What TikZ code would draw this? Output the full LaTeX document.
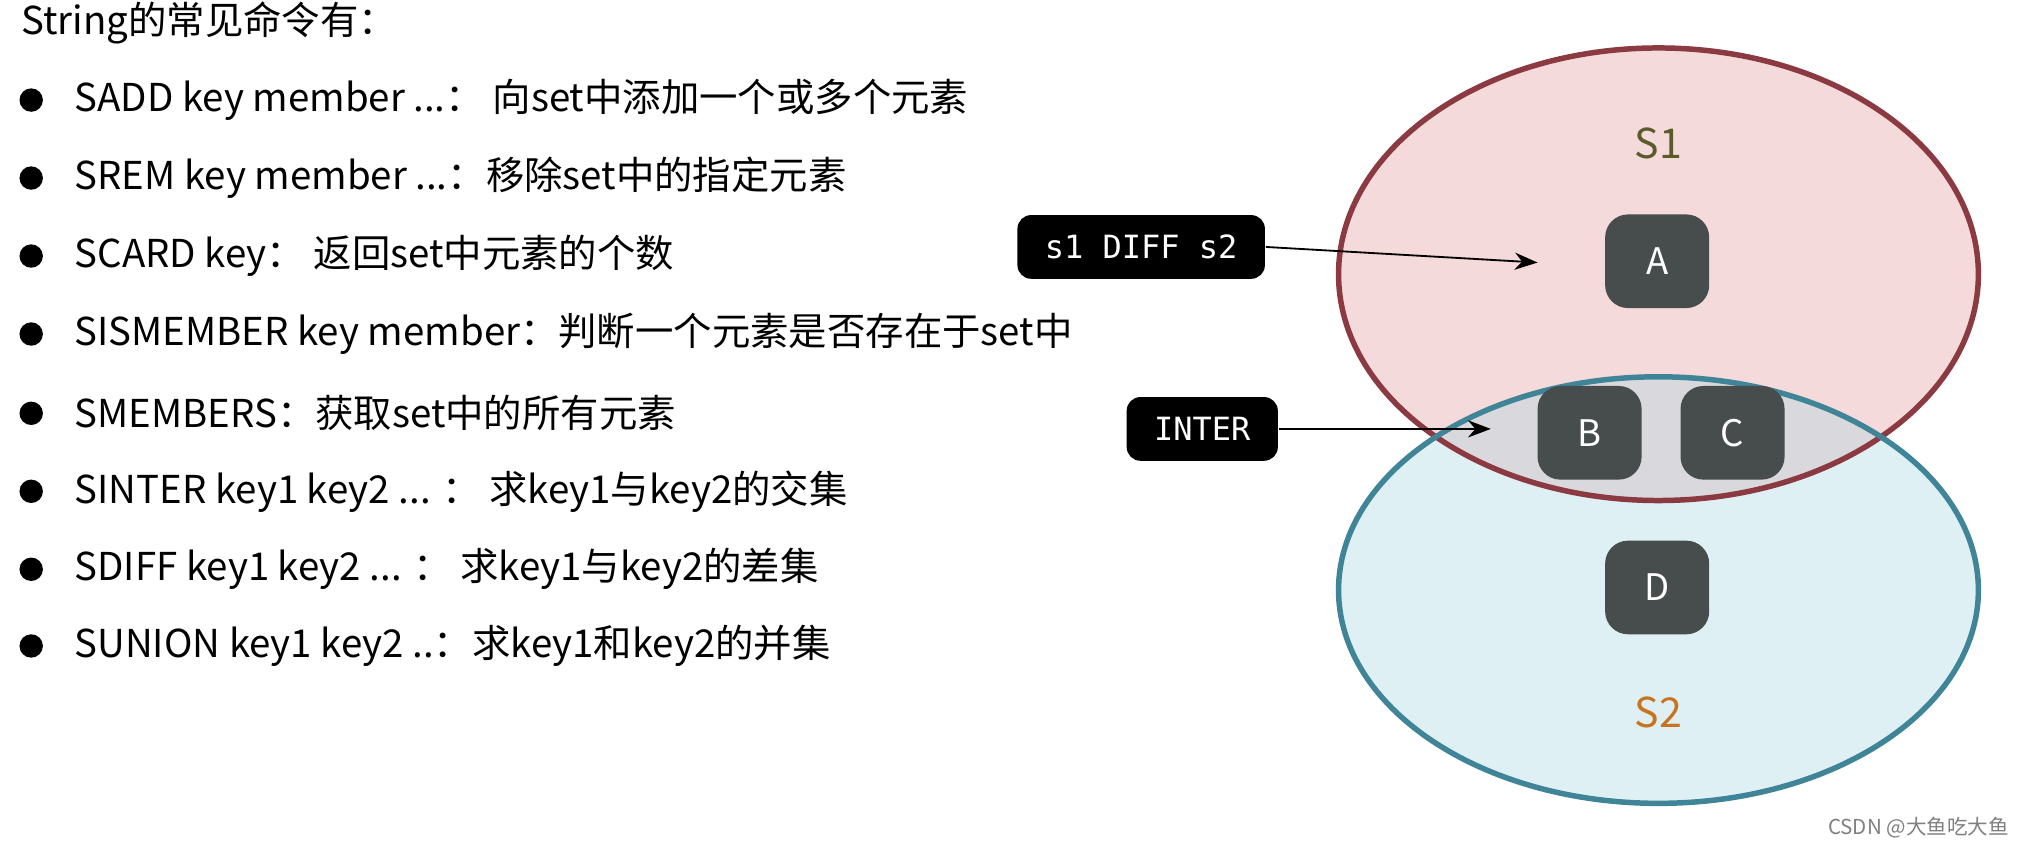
\documentclass[tikz,border=0pt]{standalone}
\usepackage{fontspec}
\setmainfont{Noto Sans CJK SC}
\setmonofont{DejaVu Sans Mono}
\usetikzlibrary{arrows.meta}
\definecolor{pinkfill}{HTML}{F4DADA}
\definecolor{bluefill}{HTML}{DFF0F5}
\definecolor{interfill}{HTML}{D8D8DD}
\definecolor{redline}{HTML}{8B3A42}
\definecolor{blueline}{HTML}{3F8597}
\definecolor{keygray}{HTML}{474C4C}
\definecolor{olivetext}{HTML}{5A5A2A}
\definecolor{orangetext}{HTML}{C8741E}

\begin{document}
\begin{tikzpicture}[
  x=0.01cm, y=-0.01cm,
  element/.style={rounded corners=5pt, fill=keygray, text=white, minimum width=0.8cm, minimum height=0.72cm, font=\fontsize{8}{10}\selectfont},
  cmdlabel/.style={rounded corners=3pt, fill=black, text=white, minimum height=0.49cm, inner xsep=6pt, font=\ttfamily\fontsize{7}{9}\selectfont},
  line/.style={anchor=west, font=\fontsize{8.4}{10}\selectfont},
  >={Stealth[length=5pt]}
]
  \useasboundingbox[fill=white] (0,0) rectangle (1568,652);

  % Title and command list
  \node[line] (title) at (4,18) {String的常见命令有：};
  \foreach \y/\t in {77/{SADD key member ...： 向set中添加一个或多个元素},
                     137/{SREM key member ...：移除set中的指定元素},
                     197/{SCARD key： 返回set中元素的个数},
                     257/{SISMEMBER key member：判断一个元素是否存在于set中},
                     318/{SMEMBERS：获取set中的所有元素},
                     378/{SINTER key1 key2 ... ： 求key1与key2的交集},
                     438/{SDIFF key1 key2 ... ： 求key1与key2的差集},
                     497/{SUNION key1 key2 ..：求key1和key2的并集}} {
    \fill (24,\y) circle (0.09cm);
    \node[line] at (45,\y) {\t};
  }

  % Sets
  \fill[pinkfill] (1276,211) ellipse (2.46cm and 1.74cm);
  \fill[bluefill] (1276,454) ellipse (2.46cm and 1.64cm);
  \begin{scope}
    \clip (1276,211) ellipse (2.46cm and 1.74cm);
    \fill[interfill] (1276,454) ellipse (2.46cm and 1.64cm);
  \end{scope}
  \draw[redline, line width=1.2pt] (1276,211) ellipse (2.46cm and 1.74cm);
  \draw[blueline, line width=1.2pt] (1276,454) ellipse (2.46cm and 1.64cm);

  \node[text=olivetext, font=\fontsize{9}{11}\selectfont] (s1) at (1276,110) {S1};
  \node[text=orangetext, font=\fontsize{9}{11}\selectfont] (s2) at (1276,548) {S2};

  % Elements
  \node[element] (a) at (1275,201) {A};
  \node[element] (b) at (1223,333) {B};
  \node[element] (c) at (1333,333) {C};
  \node[element] (d) at (1275,452) {D};

  % Operations
  \node[cmdlabel] (diff) at (878,190) {s1 DIFF s2};
  \node[cmdlabel] (inter) at (925,330) {INTER};
  \coordinate (diffend) at (1183,202);
  \coordinate (interend) at (1147,330);
  \draw[->] (diff.east) -- (diffend);
  \draw[->] (inter.east) -- (interend);

  \node[text=gray, font=\fontsize{4.5}{6}\selectfont, anchor=east] (mark) at (1558,637) {CSDN @大鱼吃大鱼};
\end{tikzpicture}
\end{document}
